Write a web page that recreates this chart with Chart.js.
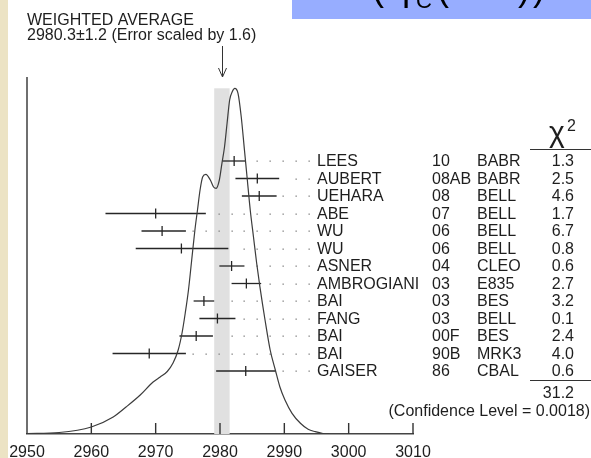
<!DOCTYPE html>
<html>
<head>
<meta charset="utf-8">
<script src="https://cdn.jsdelivr.net/npm/chart.js@4.4.0/dist/chart.umd.min.js"></script>
<style>
  html, body { margin: 0; padding: 0; background: #fff; }
</style>
</head>
<body>
<canvas id="chart" width="591" height="458"></canvas>
<script>
// measurements, one row each (top to bottom)
const names = ['LEES', 'AUBERT', 'UEHARA', 'ABE', 'WU', 'WU', 'ASNER', 'AMBROGIANI', 'BAI', 'FANG', 'BAI', 'BAI', 'GAISER'];
const years = ['10', '08AB', '08', '07', '06', '06', '04', '03', '03', '03', '00F', '90B', '86'];
const experiments = ['BABR', 'BABR', 'BELL', 'BELL', 'BELL', 'BELL', 'CLEO', 'E835', 'BES', 'BELL', 'BES', 'MRK3', 'CBAL'];
const chi2 = ['1.3', '2.5', '4.6', '1.7', '6.7', '0.8', '0.6', '2.7', '3.2', '0.1', '2.4', '4.0', '0.6'];
const values = [2982.2, 2985.8, 2986.1, 2970.0, 2971.0, 2974.0, 2981.8, 2984.1, 2977.5, 2979.6, 2976.3, 2969.0, 2984.0];
const errMinus = [1.8, 3.4, 2.7, 7.8, 3.2, 7.1, 1.9, 2.3, 1.6, 2.8, 2.6, 5.7, 4.6];
const errPlus = [1.8, 3.4, 2.7, 7.8, 3.7, 7.3, 2.0, 2.3, 1.6, 2.8, 2.6, 5.7, 4.6];

// ideogram curve (arbitrary height units)
const curveX = [2950.0, 2955.0, 2960.0, 2963.4, 2965.4, 2967.6, 2969.6, 2970.7, 2971.8, 2972.7, 2973.5, 2974.1,
    2974.6, 2975.1, 2975.6, 2976.1, 2976.5, 2976.9, 2977.3, 2977.8, 2978.5, 2979.0, 2979.4, 2979.9, 2980.3,
    2980.7, 2981.1, 2981.5, 2981.9, 2982.3, 2982.8, 2983.3, 2983.8, 2984.2, 2984.7, 2985.2, 2985.7, 2986.2,
    2987.0, 2987.8, 2988.6, 2989.3, 2990.1, 2991.2, 2992.5, 2993.7, 2994.8, 2996.0, 2997.0];
const curveY = [0.5, 1.5, 7, 17, 27, 39, 52, 57, 62.5, 71, 84, 101,
    121, 144, 174, 204, 224, 244, 257, 259.7, 254, 247, 245.7, 254, 270.7,
    287, 310.7, 334, 342.3, 345.7, 340.7, 317.3, 284, 257.3, 224, 197.3, 170.7, 147.3,
    114, 84, 64, 47.3, 34, 20.7, 10.7, 4.7, 2.3, 0.5, 0];

const xTickValues = [2950, 2960, 2970, 2980, 2990, 3000, 3010];
const avgValue = 2980.3;
const avgError = 1.2;
const scaleFactor = '1.6';
const chi2Total = '31.2';
const confidenceLevel = '0.0018';

const FONT = '"Liberation Sans", Arial, sans-serif';
const INK = '#1e1e1e';

function text(ctx, str, x, y, size, align) {
    ctx.font = `${size}px ${FONT}`;
    ctx.textAlign = align || 'left';
    ctx.fillText(str, x, y);
}

const decor = {
    id: 'decor',
    beforeDraw(chart) {
        const ctx = chart.ctx;
        const x = chart.scales.x;
        ctx.save();
        ctx.fillStyle = '#fff';
        ctx.fillRect(0, 0, chart.width, chart.height);
        // slide background bits
        ctx.fillStyle = '#ece3c4';
        ctx.fillRect(0, 0, 8, chart.height);
        ctx.fillStyle = '#97adff';
        ctx.fillRect(292, 0, chart.width - 292, 19);
        ctx.beginPath();
        ctx.rect(292, 0, chart.width - 292, 19);
        ctx.clip();
        ctx.fillStyle = '#000';
        ctx.textBaseline = 'alphabetic';
        text(ctx, '(', 372, -0.5, 36);
        text(ctx, 'η', 390, -0.5, 36);
        text(ctx, 'C', 416, 8, 22);
        text(ctx, '(', 437, -0.5, 36);
        text(ctx, '1S', 452, -0.5, 36);
        text(ctx, ')', 518, -0.5, 36);
        text(ctx, ')', 533, -0.5, 36);
        ctx.restore();

        ctx.save();
        ctx.fillStyle = INK;
        ctx.textBaseline = 'alphabetic';
        text(ctx, 'WEIGHTED AVERAGE', 27, 25, 16);
        text(ctx, `${avgValue}±${avgError} (Error scaled by ${scaleFactor})`, 27, 40, 16);
        // arrow pointing at the average
        const ax = Math.round(x.getPixelForValue(avgValue)) + 0.5;
        ctx.strokeStyle = '#333';
        ctx.lineWidth = 1;
        ctx.beginPath();
        ctx.moveTo(ax, 46);
        ctx.lineTo(ax, chart.chartArea.top);
        ctx.moveTo(ax - 4, chart.chartArea.top - 9);
        ctx.lineTo(ax, chart.chartArea.top);
        ctx.lineTo(ax + 4, chart.chartArea.top - 9);
        ctx.stroke();
        ctx.restore();
    },
    beforeDatasetsDraw(chart) {
        const ctx = chart.ctx;
        const {x, yc, yr} = chart.scales;
        const area = chart.chartArea;
        ctx.save();
        // band for the weighted average
        const bandTop = yc.getPixelForValue(Math.max(...curveY));
        const b0 = x.getPixelForValue(avgValue - avgError);
        const b1 = x.getPixelForValue(avgValue + avgError);
        ctx.fillStyle = '#e0e0e0';
        ctx.fillRect(b0, bandTop, b1 - b0, area.bottom - bandTop);
        // dotted leaders to the labels
        ctx.fillStyle = '#808080';
        values.forEach((v, i) => {
            const hi = v + errPlus[i];
            const py = yr.getPixelForValue(i);
            for (let d = 2993.8; d > hi + 1.0; d -= 2) {
                ctx.fillRect(Math.round(x.getPixelForValue(d)) - 0.5, Math.round(py) - 0.5, 1.3, 1.3);
            }
        });
        // left frame line and inward ticks
        ctx.strokeStyle = '#333';
        ctx.lineWidth = 1.4;
        ctx.beginPath();
        ctx.moveTo(area.left, area.top);
        ctx.lineTo(area.left, area.bottom);
        xTickValues.slice(1).forEach(v => {
            const px = x.getPixelForValue(v);
            ctx.moveTo(px, area.bottom);
            ctx.lineTo(px, area.bottom - 11);
        });
        ctx.stroke();
        ctx.restore();
    },
    afterDraw(chart) {
        const ctx = chart.ctx;
        const yr = chart.scales.yr;
        ctx.save();
        ctx.fillStyle = INK;
        ctx.textBaseline = 'middle';
        names.forEach((n, i) => {
            const py = yr.getPixelForValue(i) + 1;
            text(ctx, n, 317, py, 16);
            text(ctx, years[i], 432, py, 16);
            text(ctx, experiments[i], 477, py, 16);
            text(ctx, chi2[i], 574, py, 16, 'right');
        });
        ctx.textBaseline = 'alphabetic';
        text(ctx, 'χ', 549, 142, 30);
        text(ctx, '2', 567, 131, 16);
        ctx.strokeStyle = '#333';
        ctx.lineWidth = 1;
        ctx.beginPath();
        ctx.moveTo(530, 149.5);
        ctx.lineTo(591, 149.5);
        ctx.moveTo(530, 380.5);
        ctx.lineTo(591, 380.5);
        ctx.stroke();
        ctx.textBaseline = 'middle';
        text(ctx, chi2Total, 574, 394, 16, 'right');
        text(ctx, `(Confidence Level = ${confidenceLevel})`, 590, 412, 16, 'right');
        ctx.restore();
    }
};

const errorBarSets = values.map((v, i) => ({
    data: [{x: v - errMinus[i], y: i}, {x: v + errPlus[i], y: i}],
    yAxisID: 'yr',
    showLine: true,
    borderColor: '#262626',
    borderWidth: 1.3,
    pointRadius: 0,
}));

new Chart(document.getElementById('chart'), {
    type: 'scatter',
    data: {
        datasets: [
            {
                data: curveX.map((cx, i) => ({x: cx, y: curveY[i]})),
                yAxisID: 'yc',
                showLine: true,
                cubicInterpolationMode: 'monotone',
                borderColor: '#3c3c3c',
                borderWidth: 1.2,
                pointRadius: 0,
            },
            ...errorBarSets,
            {
                data: values.map((v, i) => ({x: v, y: i})),
                yAxisID: 'yr',
                pointStyle: 'line',
                rotation: 90,
                radius: 5,
                borderWidth: 1.3,
                borderColor: '#262626',
            },
        ]
    },
    options: {
        responsive: false,
        animation: false,
        devicePixelRatio: 1,
        layout: {padding: {left: 27, right: 178, top: 77, bottom: 0}},
        scales: {
            x: {
                type: 'linear',
                min: 2950,
                max: 3010,
                afterBuildTicks: scale => { scale.ticks = xTickValues.map(v => ({value: v})); },
                afterFit: scale => { scale.height = 24; },
                grid: {display: false},
                border: {display: true, color: '#444', width: 1.5},
                ticks: {
                    callback: v => String(v),
                    font: {family: FONT, size: 16},
                    color: INK,
                    padding: 1,
                    maxRotation: 0,
                    autoSkip: false,
                },
            },
            yc: {type: 'linear', min: 0, max: 357, display: false},
            yr: {type: 'linear', min: -4.8, max: 15.6, reverse: true, display: false},
        },
        plugins: {
            legend: {display: false},
            tooltip: {enabled: false},
        },
    },
    plugins: [decor],
});
</script>
</body>
</html>
